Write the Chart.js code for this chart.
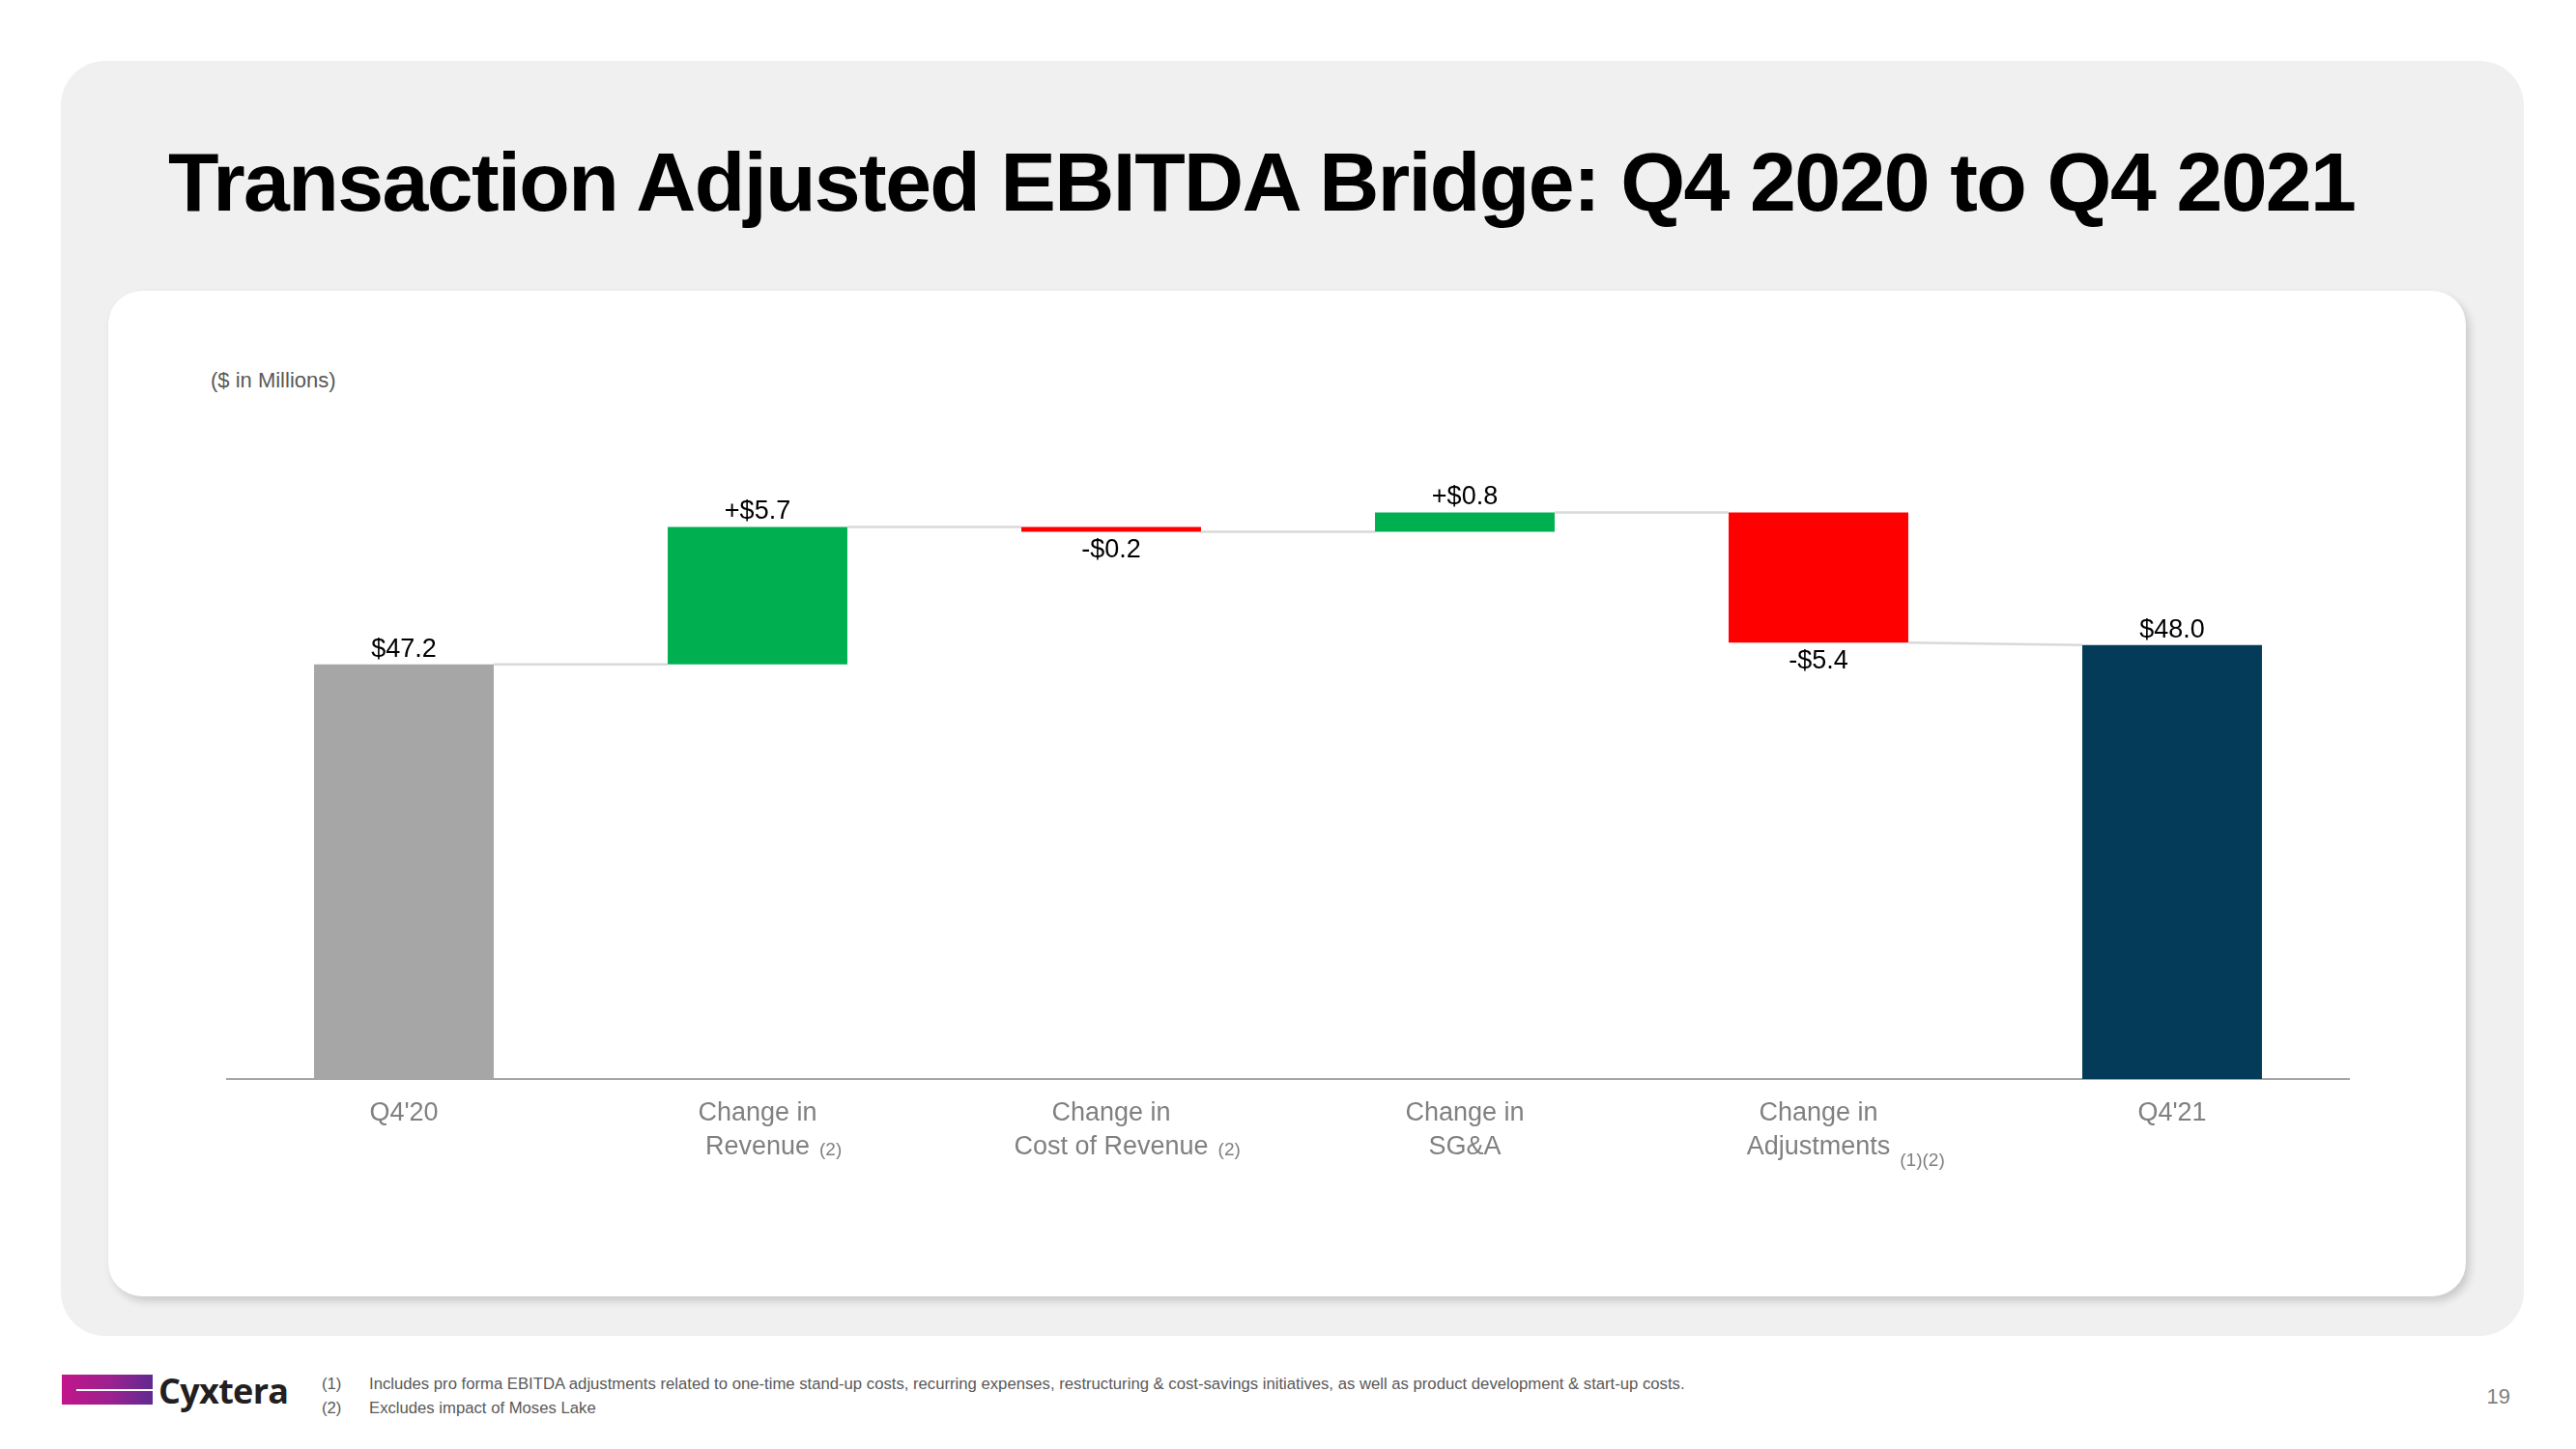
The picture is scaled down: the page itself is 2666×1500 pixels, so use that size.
<!DOCTYPE html>
<html><head><meta charset="utf-8">
<script src="https://cdn.jsdelivr.net/npm/chart.js@4.4.1/dist/chart.umd.min.js"></script>
<style>
html,body{margin:0;padding:0;background:#fff;}
body{width:2666px;height:1500px;position:relative;overflow:hidden;font-family:"Liberation Sans",Arial,sans-serif;}
#panel{position:absolute;left:63px;top:63px;width:2549px;height:1320px;background:#f0f0f0;border-radius:46px;}
#card{position:absolute;left:112px;top:301px;width:2440px;height:1041px;background:#fff;border-radius:35px;box-shadow:4px 5px 9px rgba(0,0,0,0.16);}
#title{position:absolute;left:174px;top:145px;font-size:86px;line-height:86px;font-weight:bold;letter-spacing:-1.6px;color:#000;white-space:nowrap;}
#unit{position:absolute;left:218px;top:383px;font-size:22px;line-height:22px;color:#595959;white-space:nowrap;}
#chartWrap{position:absolute;left:112px;top:301px;width:2440px;height:1041px;}
#logoBar{position:absolute;left:64px;top:1423px;width:94px;height:31px;background:linear-gradient(to right,#c2168a,#9a2190 55%,#5f2b90);}
#logoLine{position:absolute;left:15px;top:15px;width:79px;height:2px;background:#fff;}
#logoText{position:absolute;left:164px;top:1422px;font-family:"Open Sans",sans-serif;font-weight:700;font-size:36px;line-height:36px;color:#231f20;letter-spacing:-0.7px;}
.fn{position:absolute;font-size:16.7px;line-height:16px;color:#595959;white-space:nowrap;}
#page{position:absolute;left:2560px;width:38px;text-align:right;top:1435px;font-size:22px;line-height:22px;color:#7f7f7f;}
</style>
</head><body>
<div id="panel"></div>
<div id="card"></div>
<div id="title">Transaction Adjusted EBITDA Bridge: Q4 2020 to Q4 2021</div>
<div id="unit">($ in Millions)</div>
<div id="chartWrap"><canvas id="c" width="2440" height="1041"></canvas></div>
<div id="logoBar"><div id="logoLine"></div></div>
<div id="logoText">Cyxtera</div>
<div class="fn" style="left:333px;top:1425px;">(1)</div>
<div class="fn" style="left:382px;top:1425px;">Includes pro forma EBITDA adjustments related to one-time stand-up costs, recurring expenses, restructuring &amp; cost-savings initiatives, as well as product development &amp; start-up costs.</div>
<div class="fn" style="left:333px;top:1450px;">(2)</div>
<div class="fn" style="left:382px;top:1450px;">Excludes impact of Moses Lake</div>
<div id="page">19</div>
<script>
// ---- data ----
const categories = [["Q4'20"], ["Change in", "Revenue"], ["Change in", "Cost of Revenue"], ["Change in", "SG&A"], ["Change in", "Adjustments"], ["Q4'21"]];
const footnoteMarks = ["", "(2)", "(2)", "", "(1)(2)", ""];
const values = [47.2, 5.7, -0.2, 0.8, -5.4, 48.0];
const barKinds = ["total", "delta", "delta", "delta", "delta", "total"];
const valueLabels = ["$47.2", "+$5.7", "-$0.2", "+$0.8", "-$5.4", "$48.0"];
const yMin = 30;
const yMax = 55;

// ---- derived waterfall ranges ----
const starts = [], ends = [], ranges = [];
let running = 0;
values.forEach((v, i) => {
  if (barKinds[i] === "total") {
    ranges.push([yMin, v]); starts.push(v); ends.push(v); running = v;
  } else {
    ranges.push([running, running + v]); starts.push(running); running = running + v; ends.push(running);
  }
});
const colors = values.map((v, i) => {
  if (barKinds[i] === "total") return i === 0 ? "#a6a6a6" : "#033b58";
  return v >= 0 ? "#00b050" : "#ff0000";
});

const FONT = '"Liberation Sans", Arial, sans-serif';
const TICK_SIZE = 27, TICK_LH = 1.3, TICK_PAD = 18;

const connectorPlugin = {
  id: "connectors",
  beforeDatasetsDraw(chart) {
    const ctx = chart.ctx, meta = chart.getDatasetMeta(0), y = chart.scales.y;
    ctx.save();
    ctx.strokeStyle = "#d9d9d9"; ctx.lineWidth = 2.5;
    for (let i = 0; i < meta.data.length - 1; i++) {
      const a = meta.data[i], b = meta.data[i + 1];
      ctx.beginPath();
      ctx.moveTo(a.x + a.width / 2, y.getPixelForValue(ends[i]));
      ctx.lineTo(b.x - b.width / 2, y.getPixelForValue(starts[i + 1]));
      ctx.stroke();
    }
    ctx.restore();
  }
};

const valueLabelPlugin = {
  id: "valueLabels",
  afterDatasetsDraw(chart) {
    const ctx = chart.ctx, meta = chart.getDatasetMeta(0);
    ctx.save();
    ctx.font = "27px " + FONT; ctx.fillStyle = "#000"; ctx.textAlign = "center"; ctx.textBaseline = "alphabetic";
    meta.data.forEach((el, i) => {
      const top = Math.min(el.y, el.base), bottom = Math.max(el.y, el.base);
      if (barKinds[i] === "total" || values[i] >= 0) ctx.fillText(valueLabels[i], el.x, top - 8);
      else ctx.fillText(valueLabels[i], el.x, bottom + 27);
    });
    ctx.restore();
  }
};

const footnotePlugin = {
  id: "footnoteMarks",
  afterDraw(chart) {
    const ctx = chart.ctx, xs = chart.scales.x;
    const lh = TICK_SIZE * TICK_LH;
    const firstBaseline = chart.chartArea.bottom + TICK_PAD + lh / 2 + 9.4;
    ctx.save();
    footnoteMarks.forEach((m, i) => {
      if (!m) return;
      const lines = categories[i];
      ctx.font = TICK_SIZE + "px " + FONT;
      const w = ctx.measureText(lines[lines.length - 1]).width;
      const base = firstBaseline + (lines.length - 1) * lh + (m.length > 3 ? 10 : -1);
      ctx.font = "19px " + FONT; ctx.fillStyle = "#808080"; ctx.textAlign = "left"; ctx.textBaseline = "alphabetic";
      ctx.fillText(m, xs.getPixelForTick(i) + w / 2 + 10, base);
    });
    ctx.restore();
  }
};

new Chart(document.getElementById("c"), {
  type: "bar",
  data: {
    labels: categories,
    datasets: [{ data: ranges, backgroundColor: colors, borderWidth: 0, barPercentage: 0.508, categoryPercentage: 1.0 }]
  },
  options: {
    responsive: false, animation: false, devicePixelRatio: 1,
    layout: { padding: { left: 123, right: 121, top: 192, bottom: 75 } },
    plugins: { legend: { display: false }, tooltip: { enabled: false } },
    scales: {
      x: {
        z: 1,
        grid: { display: false, drawTicks: false, tickLength: 0 },
        border: { display: true, color: "#a6a6a6", width: 2 },
        ticks: { color: "#808080", font: { family: FONT, size: TICK_SIZE, lineHeight: TICK_LH }, padding: TICK_PAD, maxRotation: 0, autoSkip: false },
        afterFit: (s) => { s.height = 150; }
      },
      y: { display: false, min: yMin, max: yMax }
    }
  },
  plugins: [connectorPlugin, valueLabelPlugin, footnotePlugin]
});
</script>
</body></html>
